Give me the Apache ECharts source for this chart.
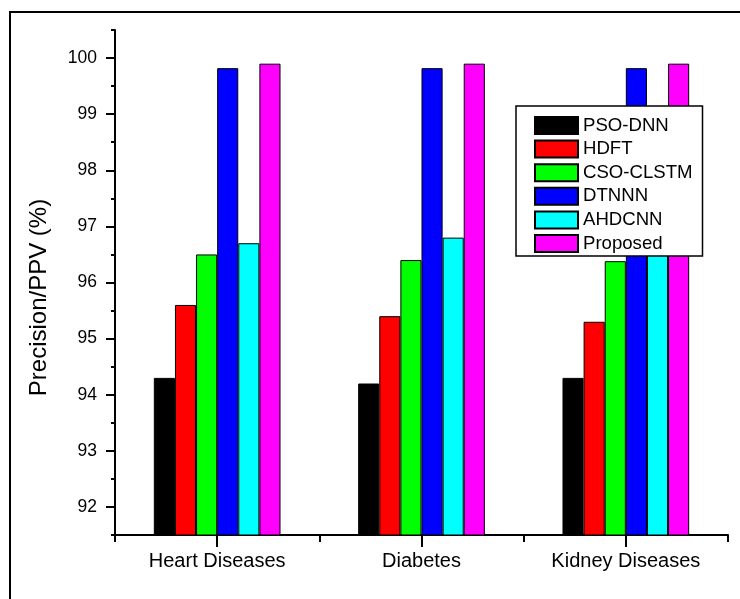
<!DOCTYPE html>
<html>
<head>
<meta charset="utf-8">
<script src="https://cdn.jsdelivr.net/npm/echarts@6/dist/echarts.min.js"></script>
<style>
html,body{margin:0;padding:0;background:#fff;}
#chart{width:740px;height:599px;}
</style>
</head>
<body>
<div id="chart"></div>
<script>
var categories = ['Heart Diseases', 'Diabetes', 'Kidney Diseases'];
var seriesNames = ['PSO-DNN', 'HDFT', 'CSO-CLSTM', 'DTNNN', 'AHDCNN', 'Proposed'];
var psoDnn   = [94.3, 94.2, 94.3];
var hdft     = [95.6, 95.4, 95.3];
var csoClstm = [96.5, 96.4, 96.38];
var dtnnn    = [99.82, 99.82, 99.82];
var ahdcnn   = [96.7, 96.8, 96.5];
var proposed = [99.9, 99.9, 99.9];
var majorTicks = [92, 93, 94, 95, 96, 97, 98, 99, 100];
var minorTicks = [91.5, 92.5, 93.5, 94.5, 95.5, 96.5, 97.5, 98.5, 99.5, 100.5];

var seriesData = [psoDnn, hdft, csoClstm, dtnnn, ahdcnn, proposed];
var colors = ['#000000', '#FF0000', '#00FF00', '#0000FF', '#00FFFF', '#FF00FF'];
var FONT = 'Liberation Sans, Arial, sans-serif';

var chart = echarts.init(document.getElementById('chart'), null, {renderer: 'canvas'});

var series = seriesNames.map(function (name, i) {
  return {
    name: name,
    type: 'bar',
    xAxisIndex: 0,
    yAxisIndex: 0,
    data: seriesData[i],
    barGap: '0%',
    barCategoryGap: '38%',
    itemStyle: {color: colors[i], borderColor: '#000', borderWidth: 1},
    emphasis: {disabled: true},
    animation: false
  };
});

var option = {
  animation: false,
  backgroundColor: '#fff',
  grid: {left: 115, right: 12, top: 30, bottom: 64, containLabel: false},
  graphic: [{
    type: 'rect',
    shape: {x: 10, y: 12, width: 900, height: 700},
    style: {fill: 'none', stroke: '#000', lineWidth: 2},
    silent: true,
    z: -10
  }],
  legend: {
    orient: 'vertical',
    left: 516,
    top: 106,
    padding: [10, 10, 3, 18],
    itemWidth: 43,
    itemHeight: 17,
    itemGap: 4.6,
    icon: 'rect',
    backgroundColor: '#fff',
    borderColor: '#000',
    borderWidth: 1.5,
    textStyle: {fontFamily: FONT, fontSize: 18.6, color: '#000', lineHeight: 17},
    data: seriesNames,
    selectedMode: false,
    z: 20
  },
  xAxis: [{
    type: 'category',
    data: categories,
    position: 'bottom',
    axisLine: {show: true, lineStyle: {color: '#000', width: 2}},
    axisTick: {show: true, alignWithLabel: true, length: 12, lineStyle: {color: '#000', width: 2}},
    axisLabel: {fontFamily: FONT, fontSize: 20, color: '#000', margin: 16},
    splitLine: {show: false}
  }, {
    type: 'category',
    data: categories,
    position: 'bottom',
    axisLine: {show: false},
    axisTick: {show: true, alignWithLabel: false, length: 7, lineStyle: {color: '#000', width: 2}},
    axisLabel: {show: false},
    splitLine: {show: false}
  }],
  yAxis: [{
    type: 'value',
    position: 'left',
    min: 91.5,
    max: 100.5,
    name: 'Precision/PPV (%)',
    nameLocation: 'middle',
    nameGap: 64,
    nameTextStyle: {fontFamily: FONT, fontSize: 24, color: '#000', padding: [0, 30, 0, 0]},
    axisLine: {show: true, lineStyle: {color: '#000', width: 2}},
    axisTick: {show: true, length: 9, customValues: majorTicks, lineStyle: {color: '#000', width: 2}},
    axisLabel: {fontFamily: FONT, fontSize: 17.5, color: '#000', margin: 18, customValues: majorTicks},
    splitLine: {show: false}
  }, {
    type: 'value',
    position: 'left',
    min: 91.5,
    max: 100.5,
    axisLine: {show: false},
    axisTick: {show: true, length: 4, customValues: minorTicks, lineStyle: {color: '#000', width: 2}},
    axisLabel: {show: false, customValues: minorTicks},
    splitLine: {show: false}
  }],
  series: series
};
chart.setOption(option);
</script>
</body>
</html>
